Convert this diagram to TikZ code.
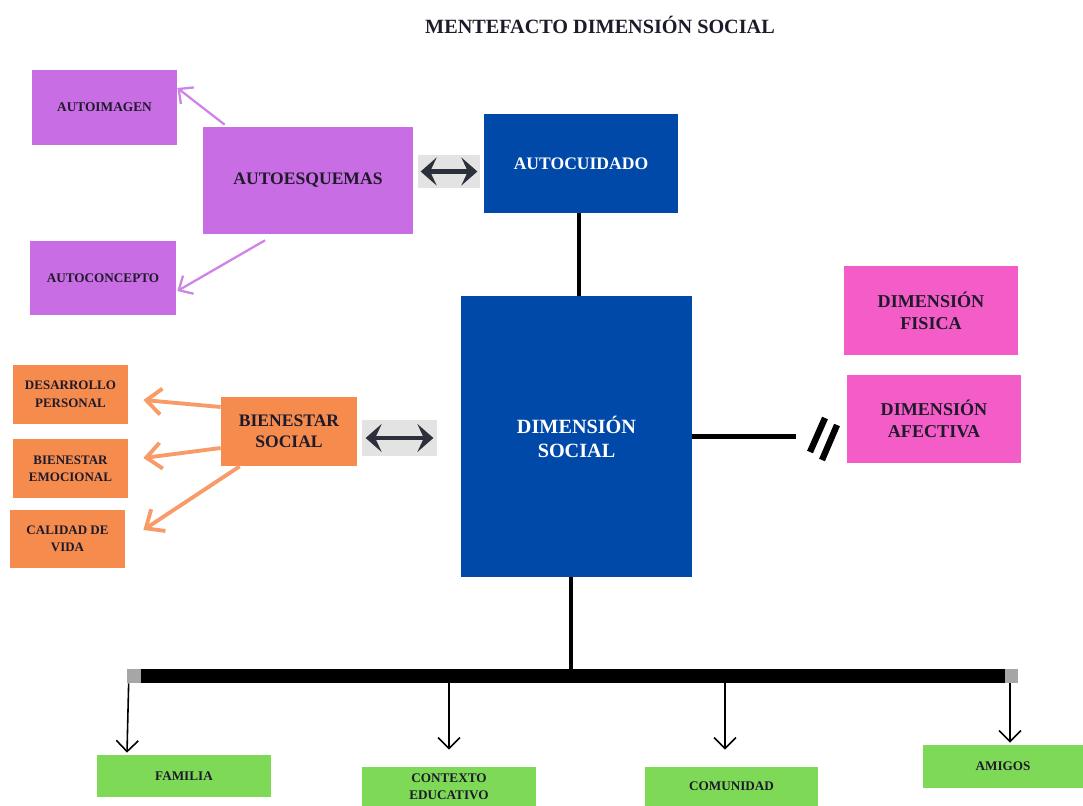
\documentclass[tikz,border=0pt]{standalone}
\usepackage{fontspec}
\setmainfont{Liberation Serif}
\usetikzlibrary{arrows.meta}
\definecolor{cmorado}{HTML}{C86DE3}
\definecolor{cazul}{HTML}{0049A8}
\definecolor{crosa}{HTML}{F45CC8}
\definecolor{cnaranja}{HTML}{F68B4E}
\definecolor{cverde}{HTML}{7ED957}
\definecolor{ctexto}{HTML}{1E1A2A}
\definecolor{cflecha}{HTML}{2B303A}
\tikzset{%
    caja/.style={rectangle, inner sep=1pt, align=center, text=ctexto},
    autos/.style={caja, fill=cmorado},
    centro/.style={caja, fill=cazul, text=white},
    dimension/.style={caja, fill=crosa},
    bienestar/.style={caja, fill=cnaranja},
    entorno/.style={caja, fill=cverde,
        font=\fontsize{7.5}{9.6}\selectfont\bfseries},
    marco/.style={rectangle, fill=gray!22, inner sep=0pt},
    flechamorada/.style={-{Straight Barb[length=0.22cm,width=0.42cm]},
        draw=cmorado!85!white, line width=1.3pt},
    flechanaranja/.style={-{Straight Barb[length=0.3cm,width=0.52cm]},
        draw=cnaranja!85!white, line width=2.2pt},
    flechita/.style={-{Straight Barb[length=0.22cm,width=0.44cm]}, line width=0.9pt},
    dobleflecha/.style={{Stealth[length=0.32cm,width=0.56cm,inset=0.13cm]}-{Stealth[length=0.32cm,width=0.56cm,inset=0.13cm]},
        draw=cflecha, line width=2.8pt}
}

\begin{document}
\begin{tikzpicture}
  \useasboundingbox (0,0) rectangle (21.66,-16.12);

  \node (titulo) at (12.0,-0.5) [font=\fontsize{11.5}{13}\selectfont\bfseries, text=ctexto]
    {MENTEFACTO DIMENSIÓN SOCIAL};

  \node (imagen) [autos, minimum width=2.9cm, minimum height=1.5cm,
    font=\fontsize{7.6}{9.6}\selectfont\bfseries] at (2.09,-2.15) {AUTOIMAGEN};
  \node (esquemas) [autos, minimum width=4.2cm, minimum height=2.14cm,
    font=\fontsize{10}{12}\selectfont\bfseries] at (6.16,-3.61) {AUTOESQUEMAS};
  \node (concepto) [autos, minimum width=2.92cm, minimum height=1.48cm,
    font=\fontsize{7.5}{9.6}\selectfont\bfseries] at (2.06,-5.56) {AUTOCONCEPTO};

  \node (cuidado) [centro, minimum width=3.88cm, minimum height=1.98cm,
    font=\fontsize{10}{12}\selectfont\bfseries] at (11.62,-3.27) {AUTOCUIDADO};
  \node (social) [centro, minimum width=4.62cm, minimum height=5.62cm,
    font=\fontsize{11.5}{13.6}\selectfont\bfseries] at (11.53,-8.73) {DIMENSIÓN\\SOCIAL};

  \node (fisica) [dimension, minimum width=3.48cm, minimum height=1.78cm,
    font=\fontsize{10.3}{12.5}\selectfont\bfseries] at (18.62,-6.21) {DIMENSIÓN\\FISICA};
  \node (afectiva) [dimension, minimum width=3.48cm, minimum height=1.76cm,
    font=\fontsize{10.3}{12.5}\selectfont\bfseries] at (18.68,-8.38) {DIMENSIÓN\\AFECTIVA};

  \node (bsocial) [bienestar, minimum width=2.72cm, minimum height=1.38cm,
    font=\fontsize{10}{12}\selectfont\bfseries] at (5.78,-8.63) {BIENESTAR\\SOCIAL};
  \node (desarrollo) [bienestar, minimum width=2.3cm, minimum height=1.18cm,
    font=\fontsize{7.4}{10}\selectfont\bfseries] at (1.41,-7.89) {DESARROLLO\\PERSONAL};
  \node (emocional) [bienestar, minimum width=2.3cm, minimum height=1.18cm,
    font=\fontsize{7.4}{9.6}\selectfont\bfseries] at (1.41,-9.37) {BIENESTAR\\EMOCIONAL};
  \node (calidad) [bienestar, minimum width=2.3cm, minimum height=1.16cm,
    font=\fontsize{7.4}{10}\selectfont\bfseries] at (1.35,-10.78) {CALIDAD DE\\VIDA};

  \node (familia) [entorno, minimum width=3.48cm, minimum height=0.84cm] at (3.68,-15.52) {FAMILIA};
  \node (contexto) [entorno, minimum width=3.48cm, minimum height=0.78cm] at (8.98,-15.73) {CONTEXTO\\EDUCATIVO};
  \node (comunidad) [entorno, minimum width=3.46cm, minimum height=0.78cm] at (14.63,-15.73) {COMUNIDAD};
  \node (amigos) [entorno, minimum width=3.2cm, minimum height=0.86cm] at (20.06,-15.33) {AMIGOS};

  \node (marco1) [marco, minimum width=1.24cm, minimum height=0.66cm] at (8.98,-3.43) {};
  \node (marco2) [marco, minimum width=1.5cm, minimum height=0.72cm] at (7.99,-8.76) {};
  \draw [dobleflecha] ([xshift=0.06cm]marco1.west) -- ([xshift=-0.06cm]marco1.east);
  \draw [dobleflecha] ([xshift=0.08cm]marco2.west) -- ([xshift=-0.08cm]marco2.east);

  \draw [flechamorada] ([xshift=0.44cm,yshift=0.04cm]esquemas.north west) -- ([yshift=0.39cm]imagen.east);
  \draw [flechamorada] ([xshift=-0.86cm,yshift=-0.12cm]esquemas.south) -- ([xshift=0.02cm,yshift=-0.26cm]concepto.east);

  \draw [flechanaranja] ([yshift=0.49cm]bsocial.west) -- ([xshift=0.3cm,yshift=-0.11cm]desarrollo.east);
  \draw [flechanaranja] ([yshift=-0.33cm]bsocial.west) -- ([xshift=0.3cm,yshift=0.21cm]emocional.east);
  \draw [flechanaranja] ([xshift=0.38cm]bsocial.south west) -- ([xshift=0.36cm,yshift=0.18cm]calidad.east);

  \draw [line width=2pt] (cuidado.south -| 11.58,0) -- (social.north -| 11.58,0);

  \coordinate (corte) at ([xshift=2.08cm]social.east);
  \draw [line width=2.3pt] (social.east) -- (corte);
  \draw [line width=3.6pt] (16.2,-9.04) -- (16.5,-8.36);
  \draw [line width=3.6pt] (16.44,-9.2) -- (16.74,-8.5);

  \node (barra) [rectangle, fill=black, inner sep=0pt, minimum width=17.82cm,
    minimum height=0.28cm] at (11.45,-13.52) {};
  \fill [gray!70] (barra.south west) rectangle ([xshift=0.28cm]barra.north west);
  \fill [gray!70] ([xshift=-0.26cm]barra.south east) rectangle (barra.north east);
  \draw [line width=2pt] ([xshift=-0.11cm]social.south) -- ([xshift=-0.11cm]social.south |- barra.north);

  \draw [flechita] ([xshift=0.04cm]barra.south west) -- ([xshift=-1.14cm,yshift=0.04cm]familia.north);
  \draw [flechita] (barra.south -| contexto.north) -- ([yshift=0.34cm]contexto.north);
  \draw [flechita] ([xshift=-0.13cm]barra.south -| comunidad.north) -- ([xshift=-0.13cm,yshift=0.34cm]comunidad.north);
  \draw [flechita] ([xshift=0.14cm]barra.south -| amigos.north) -- ([xshift=0.14cm,yshift=0.04cm]amigos.north);
\end{tikzpicture}
\end{document}
